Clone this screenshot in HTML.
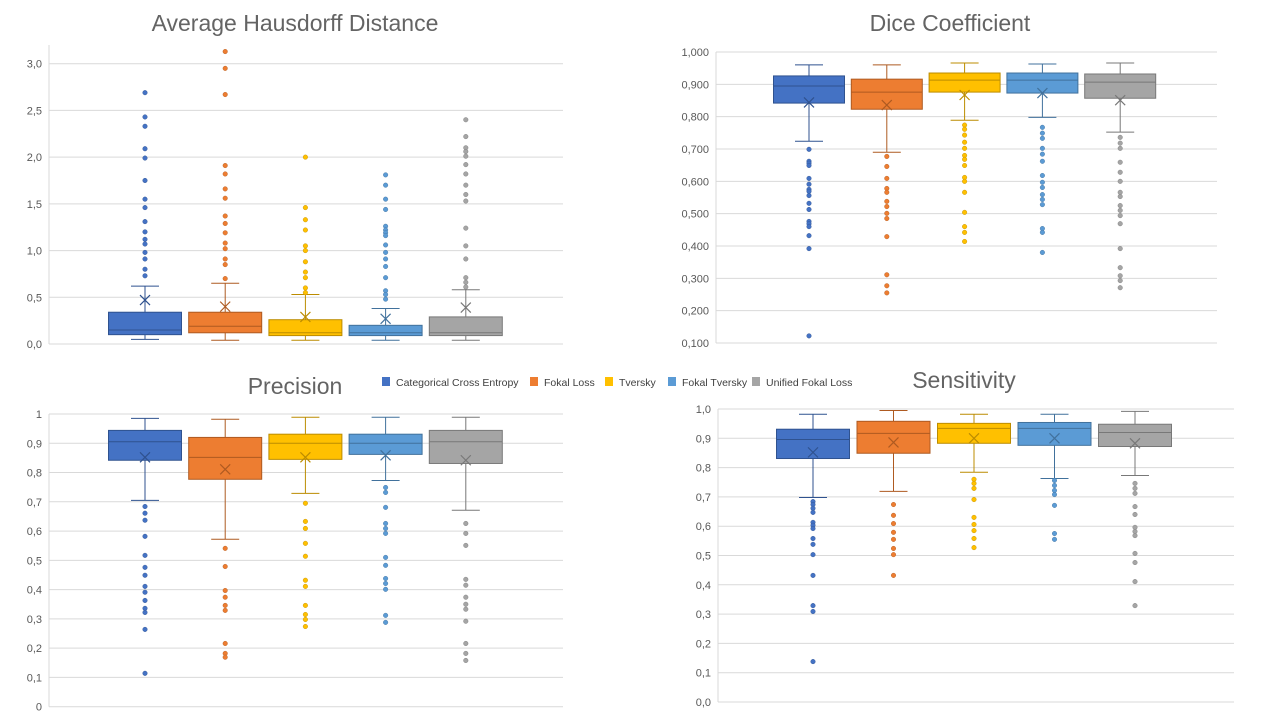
<!DOCTYPE html>
<html><head><meta charset="utf-8"><style>
body{margin:0;background:#fff;width:1280px;height:720px;overflow:hidden;font-family:"Liberation Sans",sans-serif}
svg{position:absolute;left:0;top:0}
</style></head><body>
<svg id="s" width="1280" height="720" xmlns="http://www.w3.org/2000/svg"></svg>
<script>
const categories = ["Categorical Cross Entropy","Fokal Loss","Tversky","Fokal Tversky","Unified Fokal Loss"];
// Chart 1: Average Hausdorff Distance
const hdWhiskerHigh=[0.62,0.65,0.53,0.38,0.58];
const hdQ3=[0.34,0.34,0.26,0.20,0.29];
const hdMedian=[0.15,0.19,0.12,0.12,0.12];
const hdQ1=[0.10,0.12,0.09,0.09,0.09];
const hdWhiskerLow=[0.05,0.04,0.04,0.04,0.04];
const hdMean=[0.47,0.40,0.29,0.27,0.39];
const hdOutliers=[
[2.69,2.43,2.33,2.09,1.99,1.75,1.55,1.46,1.31,1.20,1.12,1.07,0.98,0.91,0.80,0.73],
[3.13,2.95,2.67,1.91,1.82,1.66,1.56,1.37,1.29,1.19,1.08,1.02,0.91,0.85,0.70],
[2.0,1.46,1.33,1.22,1.05,1.00,0.88,0.77,0.71,0.60,0.55],
[1.81,1.70,1.55,1.44,1.26,1.22,1.19,1.16,1.06,0.98,0.91,0.83,0.71,0.57,0.53,0.48],
[2.40,2.22,2.10,2.06,2.01,1.92,1.82,1.70,1.60,1.53,1.24,1.05,0.91,0.71,0.66,0.61]];
const hdTicks=["0,0","0,5","1,0","1,5","2,0","2,5","3,0"];
// Chart 2: Dice
const dcWhiskerHigh=[0.960,0.960,0.966,0.963,0.966];
const dcQ3=[0.926,0.916,0.935,0.935,0.932];
const dcMedian=[0.895,0.876,0.913,0.913,0.907];
const dcQ1=[0.842,0.823,0.876,0.873,0.857];
const dcWhiskerLow=[0.724,0.690,0.789,0.798,0.752];
const dcMean=[0.844,0.836,0.867,0.873,0.851];
const dcOutliers=[
[0.699,0.662,0.656,0.649,0.609,0.591,0.575,0.569,0.556,0.532,0.513,0.476,0.469,0.460,0.432,0.392,0.122],
[0.677,0.646,0.609,0.578,0.566,0.538,0.522,0.501,0.485,0.429,0.311,0.277,0.255],
[0.774,0.761,0.743,0.721,0.702,0.680,0.668,0.649,0.612,0.600,0.566,0.504,0.460,0.442,0.414],
[0.767,0.749,0.733,0.702,0.684,0.662,0.618,0.597,0.581,0.559,0.544,0.528,0.454,0.442,0.380],
[0.736,0.718,0.702,0.659,0.628,0.600,0.566,0.553,0.525,0.510,0.494,0.469,0.392,0.333,0.308,0.293,0.271]];
const dcTicks=["0,100","0,200","0,300","0,400","0,500","0,600","0,700","0,800","0,900","1,000"];
// Chart 3: Precision
const prWhiskerHigh=[0.985,0.982,0.989,0.989,0.989];
const prQ3=[0.944,0.920,0.931,0.931,0.944];
const prMedian=[0.905,0.852,0.900,0.900,0.905];
const prQ1=[0.842,0.777,0.845,0.862,0.831];
const prWhiskerLow=[0.705,0.572,0.729,0.773,0.671];
const prMean=[0.852,0.811,0.852,0.859,0.842];
const prOutliers=[
[0.684,0.661,0.637,0.582,0.517,0.476,0.449,0.411,0.391,0.363,0.336,0.322,0.264,0.114],
[0.541,0.479,0.397,0.374,0.346,0.329,0.216,0.182,0.169],
[0.695,0.633,0.609,0.558,0.514,0.432,0.411,0.346,0.315,0.298,0.274],
[0.749,0.732,0.681,0.626,0.609,0.592,0.510,0.483,0.438,0.421,0.401,0.312,0.288],
[0.626,0.592,0.551,0.435,0.415,0.374,0.350,0.333,0.292,0.216,0.182,0.158]];
const prTicks=["0","0,1","0,2","0,3","0,4","0,5","0,6","0,7","0,8","0,9","1"];
// Chart 4: Sensitivity
const seWhiskerHigh=[0.982,0.995,0.982,0.982,0.992];
const seQ3=[0.931,0.958,0.951,0.954,0.948];
const seMedian=[0.896,0.917,0.934,0.934,0.920];
const seQ1=[0.831,0.849,0.883,0.876,0.872];
const seWhiskerLow=[0.698,0.719,0.784,0.763,0.773];
const seMean=[0.852,0.886,0.900,0.900,0.883];
const seOutliers=[
[0.684,0.674,0.661,0.647,0.613,0.603,0.592,0.558,0.538,0.503,0.432,0.329,0.309,0.138],
[0.674,0.637,0.609,0.579,0.555,0.524,0.503,0.432],
[0.760,0.746,0.729,0.691,0.630,0.606,0.585,0.558,0.527],
[0.756,0.739,0.722,0.708,0.671,0.575,0.555],
[0.746,0.729,0.712,0.667,0.640,0.596,0.582,0.568,0.507,0.476,0.411,0.329]];
const seTicks=["0,0","0,1","0,2","0,3","0,4","0,5","0,6","0,7","0,8","0,9","1,0"];

const fills=["#4472C4","#ED7D31","#FFC000","#5B9BD5","#A5A5A5"];
const strokes=["#2F528F","#AE5A21","#BC8C00","#41719C","#787878"];
const NS="http://www.w3.org/2000/svg";
const svg=document.getElementById("s");
function mk(tag,attrs,parent){const e=document.createElementNS(NS,tag);for(const k in attrs)e.setAttribute(k,attrs[k]);(parent||svg).appendChild(e);return e;}

function drawChart(cfg){
  const g=mk("g",{});
  
  
  const y=v=>cfg.y0-(v-cfg.vmin)/(cfg.vmax-cfg.vmin)*(cfg.y0-cfg.yTop);
  const xc=i=>cfg.c0+i*cfg.step;
  const t=mk("text",{x:cfg.titleX,y:cfg.titleY,"text-anchor":"middle","font-size":23,fill:"#646464"},g);
  t.textContent=cfg.title;
  
  
  cfg.ticks.forEach((lab,i)=>{
    const v=cfg.vmin+i*cfg.tickStep;
    const yy=y(v);
    const gl=mk("line",{x1:cfg.left,x2:cfg.right,y1:yy,y2:yy,stroke:"#d9d9d9","stroke-width":1},g);
    
    
    const tl=mk("text",{x:cfg.left-7,y:yy+4,"text-anchor":"end","font-size":11,fill:"#595959"},g);
    tl.textContent=lab;
    
    
  });
  const ax=mk("line",{x1:cfg.left,x2:cfg.left,y1:cfg.axisTop,y2:y(cfg.vmin),stroke:"#d9d9d9"},g);
  
  
  const hw=cfg.bw/2;
  categories.forEach((c,i)=>{
    const x=xc(i), sc=strokes[i];
    const bg=mk("g",{},g);
    
    
    mk("line",{x1:x,x2:x,y1:y(cfg.wh[i]),y2:y(cfg.q3[i]),stroke:sc},bg);
    mk("line",{x1:x,x2:x,y1:y(cfg.q1[i]),y2:y(cfg.wl[i]),stroke:sc},bg);
    mk("line",{x1:x-14,x2:x+14,y1:y(cfg.wh[i]),y2:y(cfg.wh[i]),stroke:sc},bg);
    mk("line",{x1:x-14,x2:x+14,y1:y(cfg.wl[i]),y2:y(cfg.wl[i]),stroke:sc},bg);
    mk("rect",{x:x-hw,y:y(cfg.q3[i]),width:cfg.bw,height:y(cfg.q1[i])-y(cfg.q3[i]),fill:fills[i],stroke:sc,"stroke-width":1},bg);
    mk("line",{x1:x-hw,x2:x+hw,y1:y(cfg.med[i]),y2:y(cfg.med[i]),stroke:sc},bg);
    const my=y(cfg.mean[i]);
    mk("path",{d:`M${x-5} ${my-5}L${x+5} ${my+5}M${x+5} ${my-5}L${x-5} ${my+5}`,stroke:sc,"stroke-width":1.2,fill:"none"},bg);
    cfg.out[i].forEach(v=>{
      const d=mk("circle",{cx:x,cy:y(v),r:2.3,fill:fills[i],stroke:sc,"stroke-width":0.4},bg);
      
      
    });
  });
}
drawChart({name:"hausdorff-chart",title:"Average Hausdorff Distance",titleX:295,titleY:31,ticks:hdTicks,vmin:0,vmax:3.2,tickStep:0.5,
  y0:344,yTop:45,axisTop:45,left:49,right:563,c0:145,step:80.2,bw:73,
  wh:hdWhiskerHigh,q3:hdQ3,med:hdMedian,q1:hdQ1,wl:hdWhiskerLow,mean:hdMean,out:hdOutliers});
drawChart({name:"dice-chart",title:"Dice Coefficient",titleX:950,titleY:31,ticks:dcTicks,vmin:0.1,vmax:1.0,tickStep:0.1,
  y0:343,yTop:52,axisTop:52,left:716,right:1217,c0:809,step:77.8,bw:71,
  wh:dcWhiskerHigh,q3:dcQ3,med:dcMedian,q1:dcQ1,wl:dcWhiskerLow,mean:dcMean,out:dcOutliers});
drawChart({name:"precision-chart",title:"Precision",titleX:295,titleY:394,ticks:prTicks,vmin:0,vmax:1,tickStep:0.1,
  y0:706.7,yTop:414,axisTop:414,left:49,right:563,c0:145,step:80.2,bw:73,
  wh:prWhiskerHigh,q3:prQ3,med:prMedian,q1:prQ1,wl:prWhiskerLow,mean:prMean,out:prOutliers});
drawChart({name:"sensitivity-chart",title:"Sensitivity",titleX:964,titleY:388,ticks:seTicks,vmin:0,vmax:1,tickStep:0.1,
  y0:702,yTop:409,axisTop:409,left:718,right:1234,c0:813,step:80.5,bw:73,
  wh:seWhiskerHigh,q3:seQ3,med:seMedian,q1:seQ1,wl:seWhiskerLow,mean:seMean,out:seOutliers});

// legend
const legX=[382,530,605,668,752];
const lg=mk("g",{});


categories.forEach((c,i)=>{
  const e=mk("g",{},lg);
  
  
  mk("rect",{x:legX[i],y:377,width:8,height:9,fill:fills[i]},e);
  const tx=mk("text",{x:legX[i]+14,y:386,"font-size":10.5,fill:"#404040"},e);
  tx.textContent=c;
});
</script>
</body></html>
